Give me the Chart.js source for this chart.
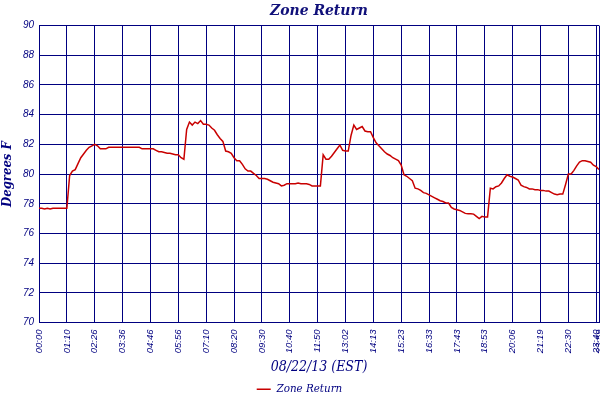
<!DOCTYPE html>
<html>
<head>
    <title>Zone Return</title>
    <script src="https://cdn.jsdelivr.net/npm/chart.js"></script>
    <style>
        html, body { margin: 0; padding: 0; background: #fff; }
        #wrap { width: 600px; height: 400px; }
    </style>
</head>
<body>
    <div id="wrap"><canvas id="tempChart"></canvas></div>
    <script>
        // tick labels along the time axis, and the sample index each one sits on
        const timeLabels = ['00:00','01:10','02:26','03:36','04:46','05:56','07:10','08:20','09:30','10:40','11:50',
                            '13:02','14:13','15:23','16:33','17:43','18:53','20:06','21:19','22:30','23:40','23:59'];
        const tickSamples = [0,10,20,30,40,50,60,70,80,90,100,110,120,130,140,150,160,170,180,190,200,201];

        // zone return temperature (deg F), one reading per sample
        const zoneReturn = [
            77.7,77.7,77.65,77.7,77.65,77.7,77.7,77.7,77.7,77.7,
            77.7,79.9,80.2,80.3,80.7,81.1,81.35,81.6,81.8,81.9,
            82.0,81.9,81.7,81.7,81.7,81.8,81.8,81.8,81.8,81.8,
            81.8,81.8,81.8,81.8,81.8,81.8,81.8,81.7,81.7,81.7,
            81.7,81.7,81.6,81.5,81.5,81.45,81.4,81.4,81.35,81.3,
            81.3,81.1,81.0,83.0,83.5,83.3,83.5,83.4,83.6,83.35,
            83.35,83.3,83.1,82.95,82.65,82.4,82.2,81.55,81.5,81.4,
            81.1,80.9,80.9,80.65,80.35,80.2,80.2,80.05,79.9,79.7,
            79.7,79.7,79.65,79.55,79.45,79.4,79.35,79.2,79.25,79.35,
            79.35,79.35,79.35,79.4,79.35,79.35,79.35,79.3,79.2,79.2,
            79.2,79.2,81.3,81.0,81.0,81.2,81.45,81.7,81.95,81.6,
            81.55,81.55,82.6,83.3,83.0,83.1,83.2,82.9,82.85,82.85,
            82.45,82.1,81.9,81.7,81.5,81.35,81.25,81.1,81.0,80.9,
            80.6,79.95,79.85,79.7,79.55,79.05,79.0,78.9,78.75,78.7,
            78.6,78.5,78.4,78.3,78.2,78.15,78.05,78.05,77.75,77.65,
            77.6,77.55,77.45,77.35,77.33,77.33,77.3,77.15,77.0,77.15,
            77.1,77.1,79.05,79.0,79.15,79.2,79.4,79.7,79.95,79.85,
            79.8,79.7,79.6,79.25,79.15,79.1,79.0,79.0,78.95,78.95,
            78.9,78.9,78.85,78.85,78.75,78.65,78.6,78.65,78.65,79.3,
            80.0,80.0,80.25,80.55,80.8,80.9,80.9,80.85,80.8,80.6,
            80.5,80.3
        ];

        const navy = '#000080';
        const serif = "'DejaVu Serif Condensed', 'DejaVu Serif', serif";
        const ctx = document.getElementById('tempChart').getContext('2d');
        const tempChart = new Chart(ctx, {
            type: 'line',
            data: {
                datasets: [{
                    label: 'Zone Return',
                    data: zoneReturn.map((t, i) => ({ x: i, y: t })),
                    borderColor: '#c80000',
                    backgroundColor: '#c80000',
                    borderWidth: 1.5,
                    pointRadius: 0,
                    tension: 0
                }]
            },
            options: {
                responsive: true,
                maintainAspectRatio: false,
                animation: false,
                layout: { autoPadding: false, padding: { left: 0, right: 1, top: 0, bottom: -5 } },
                plugins: {
                    title: {
                        display: true,
                        fullSize: false, // centre over the plot area, not the canvas
                        text: 'Zone Return',
                        color: '#10107a',
                        font: { family: serif, size: 15.5, style: 'italic', weight: 'bold' },
                        padding: { top: 2, bottom: 5 }
                    },
                    legend: {
                        position: 'bottom',
                        labels: {
                            color: navy,
                            font: { family: serif, size: 11.5, style: 'italic' },
                            usePointStyle: true,
                            pointStyle: 'line',
                            pointStyleWidth: 14,
                            padding: 4
                        }
                    },
                    tooltip: { enabled: false }
                },
                scales: {
                    x: {
                        type: 'linear',
                        min: 0,
                        max: tickSamples[tickSamples.length - 1],
                        afterBuildTicks: scale => { scale.ticks = tickSamples.map(v => ({ value: v })); },
                        afterFit: scale => { scale.height = 57; scale.paddingLeft = 0; scale.paddingRight = 0; },
                        ticks: {
                            color: navy,
                            font: { family: 'Liberation Sans', size: 9.5, style: 'italic' },
                            maxRotation: 90,
                            minRotation: 90,
                            autoSkip: false,
                            padding: 7,
                            callback: (v, i) => timeLabels[i]
                        },
                        grid: { color: navy, lineWidth: 1, drawTicks: false },
                        border: { color: navy },
                        title: {
                            display: true,
                            text: '08/22/13 (EST)',
                            color: navy,
                            font: { family: serif, size: 14, style: 'italic' },
                            padding: { top: 0, bottom: 4 }
                        }
                    },
                    y: {
                        min: 70,
                        max: 90,
                        afterFit: scale => { scale.width = 39; scale.paddingTop = 0; scale.paddingBottom = 0; },
                        ticks: {
                            stepSize: 2,
                            color: navy,
                            font: { family: 'Liberation Sans', size: 10, style: 'italic' },
                            padding: 5
                        },
                        grid: { color: navy, lineWidth: 1, drawTicks: false },
                        border: { color: navy },
                        title: {
                            display: true,
                            text: 'Degrees F',
                            color: navy,
                            font: { family: serif, size: 13, style: 'italic', weight: 'bold' },
                            padding: { top: 0, bottom: 3 }
                        }
                    }
                }
            }
        });
    </script>
</body>
</html>
